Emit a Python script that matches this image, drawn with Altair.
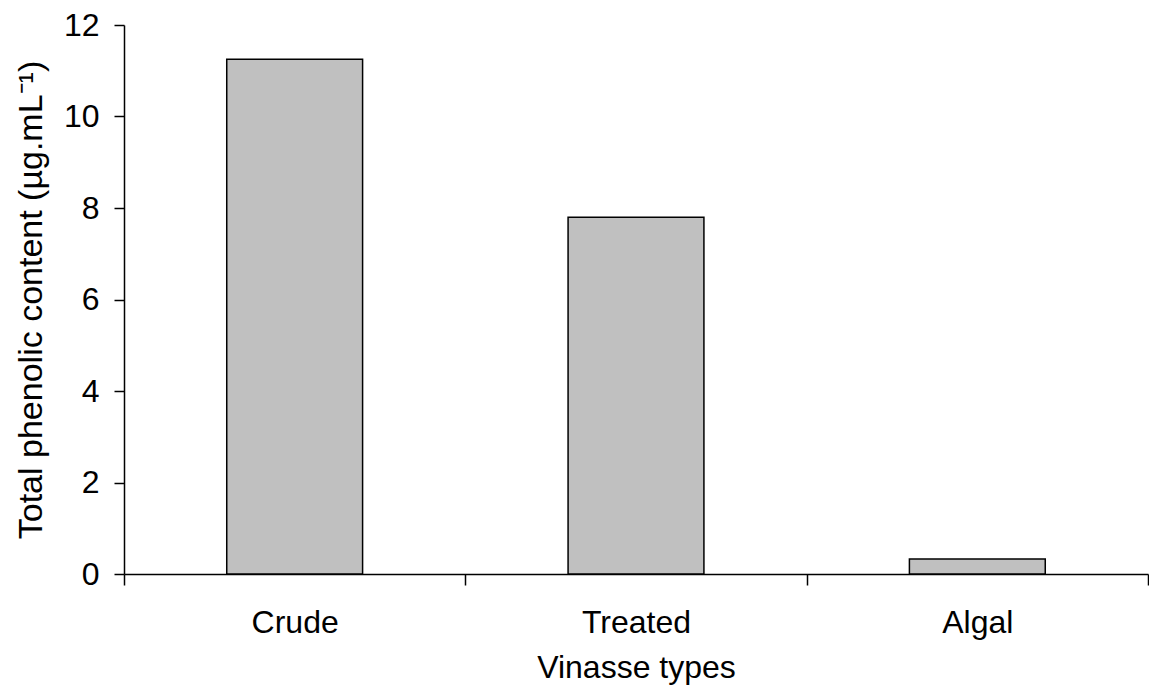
import altair as alt
import pandas as pd

categories = ["Crude", "Treated", "Algal"]
values = [11.25, 7.8, 0.33]

df = pd.DataFrame({"type": categories, "value": values})

FONT = "Liberation Sans"

bars = alt.Chart(df).mark_bar(
    color="#c0c0c0", stroke="black", strokeWidth=1.5,
    width=alt.RelativeBandSize(0.398),
).encode(
    x=alt.X(
        "type:N",
        sort=categories,
        title="Vinasse types",
        scale=alt.Scale(paddingInner=0, paddingOuter=0),
        axis=alt.Axis(
            labelAngle=0,
            tickBand="extent",
            tickSize=11,
            labelPadding=22,
            titlePadding=14,
            labelFontSize=32,
            titleFontSize=32,
            labelFont=FONT,
            titleFont=FONT,
            labelColor="black",
            titleColor="black",
            titleFontWeight="normal",
            domainColor="black",
            tickColor="black",
            domainWidth=1.5,
            tickWidth=1.5,
            grid=False,
        ),
    ),
    y=alt.Y(
        "value:Q",
        title="Total phenolic content (µg.mL⁻¹)",
        scale=alt.Scale(domain=[0, 12], nice=False),
        axis=alt.Axis(
            values=[0, 2, 4, 6, 8, 10, 12],
            tickSize=10,
            labelPadding=15,
            titlePadding=15,
            labelFontSize=32,
            titleFontSize=34,
            labelFont=FONT,
            titleFont=FONT,
            labelColor="black",
            titleColor="black",
            titleFontWeight="normal",
            domainColor="black",
            tickColor="black",
            domainWidth=1.5,
            tickWidth=1.5,
            grid=False,
        ),
    ),
)

chart = bars.properties(
    width=1024,
    height=549,
    autosize=alt.AutoSizeParams(type="none"),
    padding={"left": 116, "top": 17, "right": 1, "bottom": 113},
).configure_view(stroke=None)

chart.save("out.html", embed_options={"renderer": "svg", "actions": False})
